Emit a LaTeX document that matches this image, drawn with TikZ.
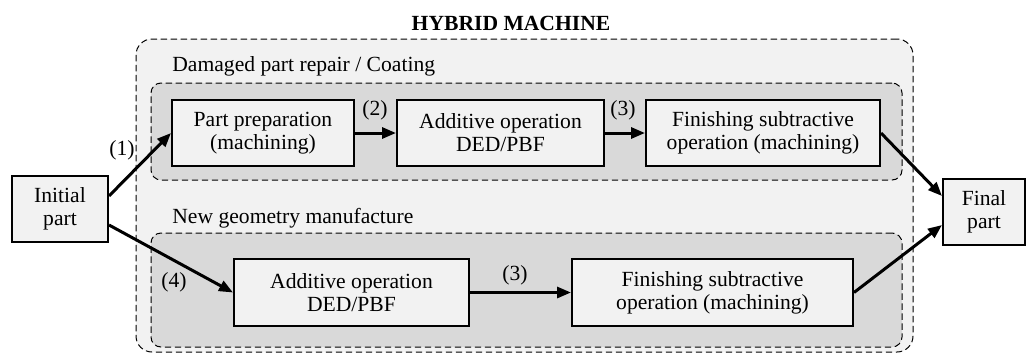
\documentclass[tikz,border=0pt]{standalone}
\usepackage{fontspec}
\setmainfont{Liberation Serif}
\usepackage{xcolor}
\usetikzlibrary{arrows.meta,positioning}

\definecolor{lightbg}{HTML}{F2F2F2}
\definecolor{groupbg}{HTML}{D9D9D9}

\tikzset{
    stepbox/.style={draw,rectangle,line width=1pt,fill=lightbg,align=center,inner sep=0pt},
    groupbox/.style={draw,rectangle,dash pattern=on 3.2pt off 1.8pt,line width=0.5pt,rounded corners=5pt,inner sep=0pt},
    flow/.style={-{Triangle[length=7pt,width=5.5pt]},line width=1.5pt},
    tag/.style={inner sep=0pt}
}

\begin{document}
\begin{tikzpicture}[x=0.5pt,y=-0.5pt,font=\fontsize{10.8}{11.5}\selectfont]
    \useasboundingbox (0,0) rectangle (1027,354);

    % frames
    \node[groupbox,fill=lightbg,rounded corners=8pt,minimum width=388.5pt,minimum height=156.5pt] (machine) at (524.5,195.5) {};
    \node[groupbox,fill=groupbg,minimum width=375.5pt,minimum height=48.5pt] (repair) at (526.5,131.5) {};
    \node[groupbox,fill=groupbg,minimum width=375.5pt,minimum height=57pt] (newgeo) at (526.5,290) {};

    \node[font=\fontsize{10.8}{11.5}\selectfont\bfseries] (title) at (511,23) {HYBRID MACHINE};
    \node[tag,anchor=west] (repairlbl) at (172,66) {Damaged part repair / Coating};
    \node[tag,anchor=west] (newgeolbl) at (172,218) {New geometry manufacture};

    \node[stepbox,minimum width=48pt,minimum height=33pt] (initial) at (60,209) {Initial\\part};
    \node[stepbox,minimum width=41pt,minimum height=33pt] (final) at (984,212) {Final\\part};

    \node[stepbox,minimum width=91pt,minimum height=33pt] (prep) at (263,133) {Part preparation\\(machining)};
    \node[stepbox,minimum width=103.5pt,minimum height=33pt] (addtop) at (500.5,133) {Additive operation\\DED/PBF};
    \node[stepbox,minimum width=117pt,minimum height=33pt] (fintop) at (763,133) {Finishing subtractive\\operation (machining)};

    \node[stepbox,minimum width=117.5pt,minimum height=33.5pt] (addbot) at (351.5,292.5) {Additive operation\\DED/PBF};
    \node[stepbox,minimum width=140.5pt,minimum height=33.5pt] (finbot) at (712.5,292.5) {Finishing subtractive\\operation (machining)};

    \draw[flow] ([yshift=6.5pt]initial.east) -- (prep.west);
    \draw[flow] (prep) -- (addtop);
    \draw[flow] (addtop) -- (fintop);
    \draw[flow] (fintop.east) -- ([yshift=8pt]final.west);

    \draw[flow] ([yshift=-8pt]initial.east) -- (addbot.west);
    \draw[flow] (addbot) -- (finbot);
    \draw[flow] (finbot.east) -- ([yshift=-6.5pt]final.west);

    \node[tag] (n1) at (122,150) {(1)};
    \node[tag] (n2) at (375,110) {(2)};
    \node[tag] (n3a) at (623,110) {(3)};
    \node[tag] (n4) at (174,282) {(4)};
    \node[tag] (n3b) at (515,275) {(3)};
\end{tikzpicture}
\end{document}
